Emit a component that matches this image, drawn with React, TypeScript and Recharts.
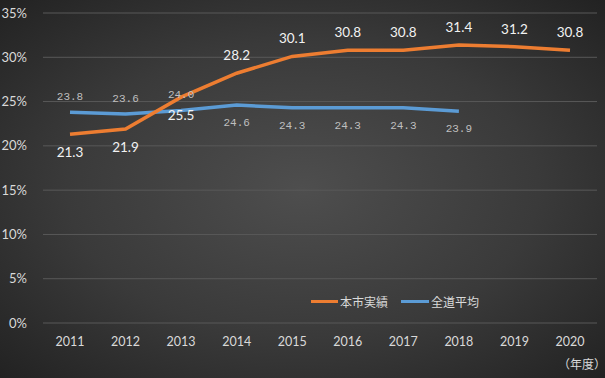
import { LineChart, Line, XAxis, YAxis, CartesianGrid, LabelList } from "recharts";

const years = ["2011", "2012", "2013", "2014", "2015", "2016", "2017", "2018", "2019", "2020"];
const cityRate = [21.3, 21.9, 25.5, 28.2, 30.1, 30.8, 30.8, 31.4, 31.2, 30.8];
const prefRate: (number | null)[] = [23.8, 23.6, 24.0, 24.6, 24.3, 24.3, 24.3, 23.9, null, null];
const yTicks = [0, 5, 10, 15, 20, 25, 30, 35];

const data = years.map((y, i) => ({ year: y, city: cityRate[i], pref: prefRate[i] }));

const ORANGE = "#ED7D31";
const BLUE = "#5B9BD5";

// which points get their label under the line
const cityBelow = [0, 1, 2];
const prefBelow = [3, 4, 5, 6, 7];

function makeLabel(below: number[], style: { fill: string; fontSize: number; fontFamily: string }, dyUp: number, dyDown: number) {
  return (props: any) => {
    const { x, y, value, index } = props;
    if (value == null) return null;
    const isBelow = below.includes(index);
    return (
      <text
        x={x}
        y={y + (isBelow ? dyDown : dyUp)}
        textAnchor="middle"
        fill={style.fill}
        fontSize={style.fontSize}
        fontFamily={style.fontFamily}
      >
        {Number(value).toFixed(1)}
      </text>
    );
  };
}

export default function App() {
  return (
    <div
      style={{
        position: "absolute",
        left: 0,
        top: 0,
        width: 605,
        height: 378,
        background: "radial-gradient(ellipse at 50% 50%, #4e4e4e 0%, #3a3a3a 55%, #222 100%)",
        overflow: "hidden",
      }}
    >
      <LineChart width={605} height={378} data={data} margin={{ top: 13, right: 8, left: 0, bottom: 25 }}>
        <CartesianGrid vertical={false} stroke="#595959" strokeWidth={1} />
        <XAxis
          dataKey="year"
          axisLine={false}
          tickLine={false}
          padding={{ left: 27, right: 27 }}
          height={30}
          tick={{ fill: "#d9d9d9", fontSize: 12.5, fontFamily: "Lato, 'Noto Sans', sans-serif" }}
          tickMargin={8}
        />
        <YAxis
          domain={[0, 35]}
          ticks={yTicks}
          width={43}
          axisLine={false}
          tickLine={false}
          tickFormatter={(v: number) => `${v}%`}
          tick={{ fill: "#d9d9d9", fontSize: 13, fontFamily: "Lato, 'Noto Sans', sans-serif" }}
          tickMargin={10}
        />
        <Line
          type="linear"
          dataKey="pref"
          stroke={BLUE}
          strokeWidth={3.5}
          dot={false}
          isAnimationActive={false}
          connectNulls={false}
        >
          <LabelList
            dataKey="pref"
            content={makeLabel(prefBelow, { fill: "#bfbfbf", fontSize: 11, fontFamily: "'Liberation Mono', monospace" }, -12, 21)}
          />
        </Line>
        <Line type="linear" dataKey="city" stroke={ORANGE} strokeWidth={3.5} dot={false} isAnimationActive={false}>
          <LabelList
            dataKey="city"
            content={makeLabel(cityBelow, { fill: "#f2f2f2", fontSize: 13.5, fontFamily: "Lato, 'Noto Sans', sans-serif" }, -13, 23)}
          />
        </Line>
      </LineChart>
      <div
        style={{
          position: "absolute",
          left: 311,
          top: 293,
          display: "flex",
          alignItems: "center",
          fontFamily: "'Noto Sans CJK JP', sans-serif",
          fontSize: 12,
          color: "#d9d9d9",
        }}
      >
        <span style={{ display: "inline-block", width: 27, height: 3, background: ORANGE, marginRight: 2 }} />
        <span style={{ marginRight: 13 }}>本市実績</span>
        <span style={{ display: "inline-block", width: 28, height: 3, background: BLUE, marginRight: 2 }} />
        <span>全道平均</span>
      </div>
      <div
        style={{
          position: "absolute",
          left: 558,
          top: 355,
          fontFamily: "'Noto Sans CJK JP', sans-serif",
          fontSize: 12,
          color: "#d9d9d9",
        }}
      >
        （年度）
      </div>
    </div>
  );
}
